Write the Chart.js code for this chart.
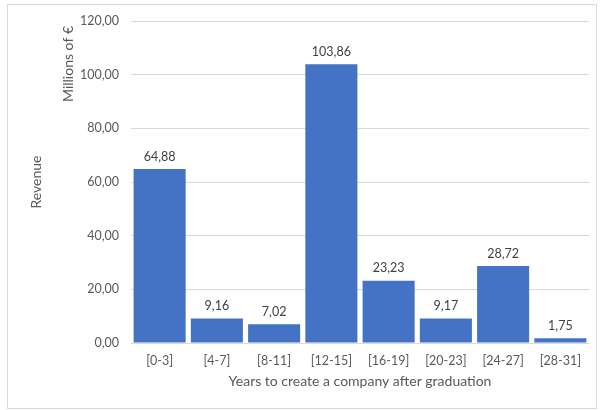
<!DOCTYPE html>
<html>
<head>
<meta charset="utf-8">
<script src="https://cdn.jsdelivr.net/npm/chart.js@4"></script>
<style>
  html, body { margin: 0; padding: 0; background: #ffffff; }
  #wrap { width: 600px; height: 410px; position: relative; }
</style>
</head>
<body>
<div id="wrap"><canvas id="chart" width="600" height="410"></canvas></div>
<script>
// Revenue per bucket of years between graduation and company creation
const categories = ['[0-3]', '[4-7]', '[8-11]', '[12-15]', '[16-19]', '[20-23]', '[24-27]', '[28-31]'];
const revenue = [64.88, 9.16, 7.02, 103.86, 23.23, 9.17, 28.72, 1.75];
const yTicks = [0, 20, 40, 60, 80, 100, 120];

const FONT = 'Lato, "Open Sans", sans-serif';
const TEXT = '#595959';

const fmt = v => v.toFixed(2).replace('.', ',');

// Value labels above each bar
const valueLabels = {
  id: 'valueLabels',
  afterDatasetsDraw(chart) {
    const ctx = chart.ctx;
    const meta = chart.getDatasetMeta(0);
    ctx.save();
    ctx.font = '12.5px ' + FONT;
    ctx.fillStyle = '#404040';
    ctx.textAlign = 'center';
    ctx.textBaseline = 'bottom';
    meta.data.forEach((bar, i) => {
      ctx.fillText(fmt(revenue[i]), bar.x, bar.y - 6);
    });
    ctx.restore();
  }
};

// Unit caption beside the value axis, plus the outer frame
const decorations = {
  id: 'decorations',
  afterDraw(chart) {
    const ctx = chart.ctx;
    ctx.save();
    ctx.font = '14px ' + FONT;
    ctx.fillStyle = TEXT;
    ctx.textAlign = 'center';
    ctx.textBaseline = 'middle';
    ctx.translate(68, 64);
    ctx.rotate(-Math.PI / 2);
    ctx.fillText('Millions of €', 0, 0);
    ctx.restore();

    ctx.save();
    ctx.strokeStyle = '#d9d9d9';
    ctx.lineWidth = 1;
    ctx.strokeRect(7.5, 4.5, 589, 404);
    ctx.restore();
  }
};

new Chart(document.getElementById('chart'), {
  type: 'bar',
  data: {
    labels: categories,
    datasets: [{
      data: revenue,
      backgroundColor: '#4472C4',
      borderWidth: 0,
      categoryPercentage: 1.0,
      barPercentage: 0.909
    }]
  },
  options: {
    responsive: false,
    animation: false,
    layout: { padding: { left: 0, right: 11, top: 21, bottom: 0 } },
    plugins: {
      legend: { display: false },
      tooltip: { enabled: false }
    },
    scales: {
      x: {
        grid: { display: false, drawTicks: false },
        border: { display: false },
        ticks: { color: TEXT, font: { family: FONT, size: 12.5 }, padding: 10, maxRotation: 0 },
        title: {
          display: true,
          text: 'Years to create a company after graduation',
          color: TEXT,
          font: { family: FONT, size: 14 },
          padding: { top: 0, bottom: 20 }
        },
        afterFit(scale) { scale.height = 67; }
      },
      y: {
        min: 0,
        max: 120,
        afterBuildTicks(scale) { scale.ticks = yTicks.map(v => ({ value: v })); },
        grid: { color: '#d9d9d9', drawTicks: false },
        border: { display: false },
        ticks: {
          color: TEXT,
          font: { family: FONT, size: 12.5 },
          padding: 12,
          callback: v => fmt(v)
        },
        title: {
          display: true,
          text: 'Revenue',
          color: TEXT,
          font: { family: FONT, size: 14 },
          padding: { top: 28, bottom: 0 }
        },
        afterFit(scale) { scale.width = 131; }
      }
    }
  },
  plugins: [valueLabels, decorations]
});
</script>
</body>
</html>
